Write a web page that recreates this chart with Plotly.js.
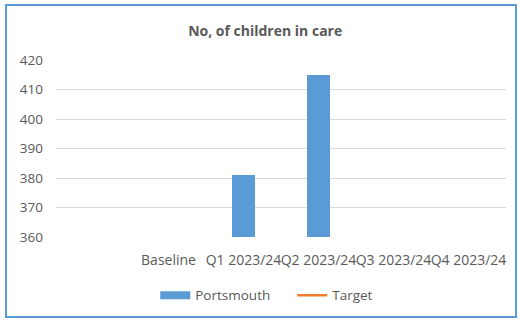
<!DOCTYPE html>
<html><head><meta charset="utf-8">
<script src="https://cdn.plot.ly/plotly-3.0.1.min.js"></script>
<style>
html,body{margin:0;padding:0;background:#fff;}
#wrap{position:relative;width:520px;height:323px;}
#chart{position:absolute;left:0;top:0;width:520px;height:323px;}
#frame{position:absolute;left:5px;top:4px;width:508px;height:310px;border:2.5px solid #5B9BD5;pointer-events:none;}
</style>
</head><body>
<div id="wrap"><div id="chart"></div><div id="frame"></div></div>
<script>
const categories = ["", "Baseline", "Q1 2023/24", "Q2 2023/24", "Q3 2023/24", "Q4 2023/24"];
const portsmouth = [null, null, 381, 415, null, null];
const target = [null, null, null, null, null, null];
const yTicks = [360, 370, 380, 390, 400, 410, 420];

const idx = categories.map((c, i) => i);
const font = {family: "Open Sans, Liberation Sans, sans-serif", color: "#595959"};

const traces = [
  {type: "bar", name: "Portsmouth", x: idx, y: portsmouth, marker: {color: "#5B9BD5"}, width: 0.31,
   showlegend: false, legendgroup: "p"},
  {type: "scatter", mode: "lines", name: "Portsmouth", x: idx, y: target, legendgroup: "p",
   line: {color: "#5B9BD5", width: 8}},
  {type: "scatter", mode: "lines", name: "Target", x: idx, y: target, line: {color: "#ED7D31", width: 2.5}}
];

const layout = {
  width: 520, height: 323,
  margin: {l: 56, r: 14, t: 60, b: 81},
  paper_bgcolor: "#fff", plot_bgcolor: "#fff",
  font: Object.assign({size: 14}, font),
  title: {text: "<b>No, of children in care</b>", x: 0.51, xanchor: "center", y: 0.905, yanchor: "middle",
          font: Object.assign({size: 14}, font)},
  xaxis: {range: [-0.5, categories.length - 0.5], tickvals: idx, ticktext: categories,
          showgrid: false, zeroline: false, showline: false, ticks: "outside", ticklen: 10, tickcolor: "rgba(0,0,0,0)",
          tickangle: 0, tickfont: Object.assign({size: 14}, font), fixedrange: true},
  yaxis: {range: [360, 420], tickvals: yTicks, showgrid: true, gridcolor: "#D9D9D9", gridwidth: 1,
          zeroline: false, showline: false, ticks: "", ticklabelstandoff: 12,
          tickfont: Object.assign({size: 13.5}, font), fixedrange: true},
  showlegend: true,
  legend: {orientation: "h", x: 0.525, xanchor: "center", y: -0.33, yanchor: "middle",
           font: Object.assign({size: 13.5}, font), entrywidth: 92, tracegroupgap: 0},
  bargap: 0
};

Plotly.newPlot("chart", traces, layout, {displayModeBar: false, staticPlot: true});
</script>
</body></html>
